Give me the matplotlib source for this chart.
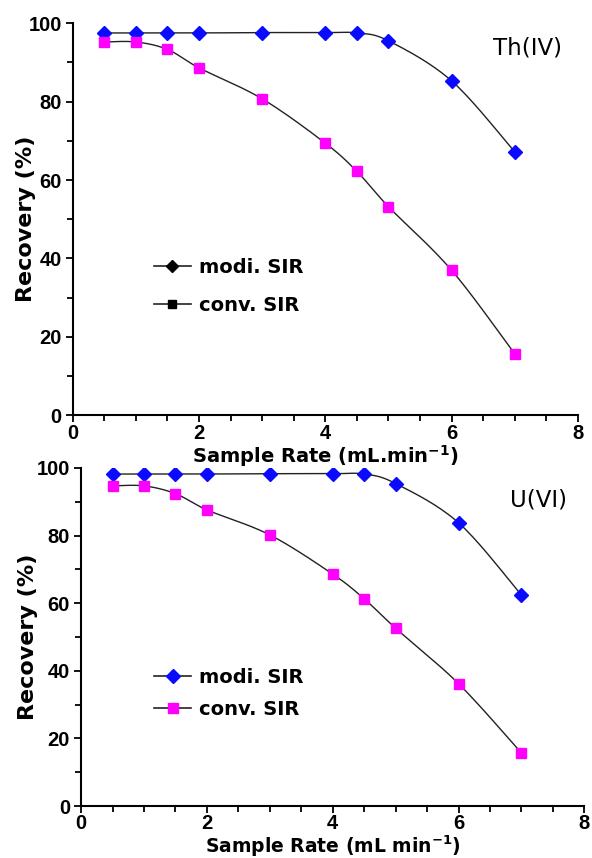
import matplotlib
matplotlib.use("Agg")
import matplotlib.pyplot as plt
from matplotlib.lines import Line2D
from matplotlib.ticker import MultipleLocator
import numpy as np

plt.rcParams['font.family'] = ['Liberation Sans', 'DejaVu Sans']
LBL_FONT = ['DejaVu Sans']

rate = [0.5, 1, 1.5, 2, 3, 4, 4.5, 5, 6, 7]

# Th(IV)
th_modi = [97.5, 97.5, 97.5, 97.5, 97.6, 97.6, 97.5, 95.5, 85.3, 67.2]
th_conv = [95.2, 95.2, 93.3, 88.6, 80.7, 69.4, 62.2, 53.2, 37.0, 15.7]

# U(VI)
u_modi = [98.2, 98.2, 98.2, 98.2, 98.3, 98.3, 98.2, 95.4, 83.8, 62.4]
u_conv = [94.7, 94.7, 92.4, 87.6, 80.2, 68.6, 61.3, 52.6, 36.2, 15.7]

labels = ['modi. SIR', 'conv. SIR']


def smooth(x, y, n=20):
    # catmull-rom like excel "smoothed line"
    x = np.asarray(x, float); y = np.asarray(y, float)
    px = np.concatenate([[x[0]], x, [x[-1]]])
    py = np.concatenate([[y[0]], y, [y[-1]]])
    xs, ys = [], []
    t = np.linspace(0, 1, n)
    for i in range(1, len(px) - 2):
        for p, out in ((px, xs), (py, ys)):
            p0, p1, p2, p3 = p[i - 1], p[i], p[i + 1], p[i + 2]
            out.extend(0.5 * ((2 * p1) + (-p0 + p2) * t +
                              (2 * p0 - 5 * p1 + 4 * p2 - p3) * t ** 2 +
                              (-p0 + 3 * p1 - 3 * p2 + p3) * t ** 3))
    return xs, ys


def panel(ax, modi, conv, tag, tag_pos, xlabel, xlab_y, xlab_size, ylab_x, legend_black, leg_pos, spacing):
    for y in (modi, conv):
        sx, sy = smooth(rate, y)
        ax.plot(sx, sy, color='#222222', lw=1.0, zorder=2)
    ax.plot(rate, modi, ls='none', marker='D', ms=7, color='#0a0aff', zorder=3)
    ax.plot(rate, conv, ls='none', marker='s', ms=7.5, color='#ff00ff', zorder=3)

    ax.set_xlim(0, 8)
    ax.set_ylim(0, 100)
    ax.xaxis.set_major_locator(MultipleLocator(2))
    ax.xaxis.set_minor_locator(MultipleLocator(0.5))
    ax.yaxis.set_major_locator(MultipleLocator(20))
    ax.yaxis.set_minor_locator(MultipleLocator(10))
    ax.tick_params(which='major', length=5, width=1.3, labelsize=14.5, pad=3)
    ax.tick_params(axis='x', which='major', pad=1)
    ax.tick_params(which='minor', length=4, width=1.3)
    for lab in ax.get_xticklabels() + ax.get_yticklabels():
        lab.set_fontweight('bold')
    ax.spines['top'].set_visible(False)
    ax.spines['right'].set_visible(False)
    ax.spines['left'].set_linewidth(1.5)
    ax.spines['bottom'].set_linewidth(1.5)

    ax.set_ylabel('Recovery (%)', family=LBL_FONT, fontsize=16, fontweight='bold')
    ax.yaxis.set_label_coords(ylab_x, 0.5)
    ax.set_xlabel(xlabel, family=LBL_FONT, fontsize=xlab_size, fontweight='bold')
    ax.xaxis.set_label_coords(0.5, xlab_y)
    ax.text(tag_pos[0], tag_pos[1], tag, transform=ax.transAxes, ha='right', va='center',
            family=LBL_FONT, fontsize=16.5)

    if legend_black:
        c1 = c2 = 'black'
        m1, m2 = 6, 6
    else:
        c1, c2 = '#0a0aff', '#ff00ff'
        m1, m2 = 7, 7.5
    handles = [Line2D([], [], color='#222222', lw=1.2, marker='D', ms=m1, mfc=c1, mec=c1),
               Line2D([], [], color='#222222', lw=1.2, marker='s', ms=m2, mfc=c2, mec=c2)]
    ax.legend(handles, labels, loc='center left', bbox_to_anchor=leg_pos, frameon=False,
              prop={'family': LBL_FONT, 'weight': 'bold', 'size': 14},
              handlelength=1.9, handletextpad=0.4, labelspacing=spacing, borderaxespad=0)


fig = plt.figure(figsize=(5.92, 8.58), dpi=100)
ax1 = fig.add_axes([0.123, 0.516, 0.853, 0.457])
ax2 = fig.add_axes([0.137, 0.0606, 0.850, 0.394])

panel(ax1, th_modi, th_conv, 'Th(IV)', (0.968, 0.936), 'Sample Rate (mL.min$^{\\mathbf{-1}}$)',
      -0.072, 14, -0.073, True, (0.145, 0.329), 0.95)
panel(ax2, u_modi, u_conv, 'U(VI)', (0.966, 0.905), 'Sample Rate (mL min$^{\\mathbf{-1}}$)',
      -0.082, 13.5, -0.085, False, (0.13, 0.333), 0.7)

fig.savefig('out.png', dpi=100)
